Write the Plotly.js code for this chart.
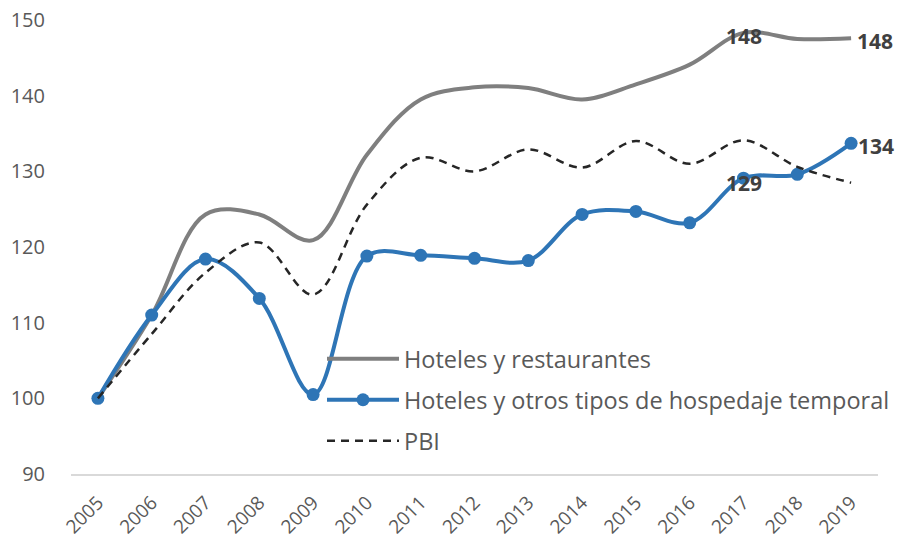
<!DOCTYPE html>
<html>
<head>
<meta charset="utf-8">
<script src="https://cdn.plot.ly/plotly-3.0.1.min.js"></script>
<style>html,body{margin:0;padding:0;background:#fff;}#chart{width:900px;height:543px;}</style>
</head>
<body>
<div id="chart"></div>
<script>
const years = ['2005','2006','2007','2008','2009','2010','2011','2012','2013','2014','2015','2016','2017','2018','2019'];
const hotelesRestaurantes = [100, 111, 124.3, 124.3, 120.9, 132.2, 139.5, 141.1, 141.0, 139.5, 141.5, 144.1, 148.3, 147.5, 147.6];
const hotelesHospedaje = [100, 111.0, 118.4, 113.2, 100.5, 118.8, 118.9, 118.5, 118.2, 124.3, 124.7, 123.2, 129.1, 129.6, 133.7];
const pbi = [100, 108.5, 116.6, 120.6, 113.7, 125.6, 131.8, 130.0, 132.9, 130.5, 134.0, 131.0, 134.1, 130.6, 128.5];
const names = ['Hoteles y restaurantes', 'Hoteles y otros tipos de hospedaje temporal', 'PBI'];

const FONT = '"Open Sans", Lato, sans-serif';
const traces = [
  {x: years, y: hotelesRestaurantes, name: names[0], type: 'scatter', mode: 'lines',
   line: {color: '#7f7f7f', width: 4, shape: 'spline', smoothing: 1}, legend: 'legend'},
  {x: years, y: hotelesHospedaje, name: names[1], type: 'scatter', mode: 'lines+markers',
   line: {color: '#2e75b6', width: 4, shape: 'spline', smoothing: 1},
   marker: {color: '#2e75b6', size: 13}, legend: 'legend2'},
  {x: years, y: pbi, name: names[2], type: 'scatter', mode: 'lines',
   line: {color: '#262626', width: 2.5, dash: '8px,6px', shape: 'spline', smoothing: 1}, legend: 'legend3'}
];

const labFont = {family: FONT, size: 21, color: '#404040', weight: 'bold'};
const idx17 = years.indexOf('2017');
const idx19 = years.indexOf('2019');
const annotations = [
  {x: idx17, y: hotelesRestaurantes[idx17], text: String(Math.round(hotelesRestaurantes[idx17])), xanchor: 'center', yanchor: 'middle', yshift: -3},
  {x: idx19, y: hotelesRestaurantes[idx19], text: String(Math.round(hotelesRestaurantes[idx19])), xanchor: 'left', yanchor: 'middle', xshift: 4, yshift: -3},
  {x: idx17, y: hotelesHospedaje[idx17], text: String(Math.round(hotelesHospedaje[idx17])), xanchor: 'center', yanchor: 'middle', yshift: -5},
  {x: idx19, y: hotelesHospedaje[idx19], text: String(Math.round(hotelesHospedaje[idx19])), xanchor: 'left', yanchor: 'middle', xshift: 5, yshift: -3}
].map(a => Object.assign({xref: 'x', yref: 'y', showarrow: false, font: labFont}, a));

const legFont = {family: FONT, size: 23.5, color: '#595959'};
const legBase = {xref: 'paper', yref: 'paper', xanchor: 'left', yanchor: 'middle', bgcolor: 'rgba(0,0,0,0)', font: legFont, itemwidth: 72};
const legX = (322 - 71) / 807;
const layout = {
  width: 900, height: 543,
  margin: {l: 71, r: 22, t: 20, b: 69, autoexpand: false},
  paper_bgcolor: '#ffffff', plot_bgcolor: '#ffffff',
  showlegend: true,
  font: {family: FONT, color: '#595959'},
  xaxis: {type: 'category', range: [-0.5, 14.5], showgrid: false, zeroline: false, automargin: false,
    showline: true, linecolor: '#d9d9d9', linewidth: 2, ticks: 'outside', ticklen: 8,
    tickcolor: 'rgba(0,0,0,0)', tickangle: -45,
    tickfont: {family: FONT, size: 19, color: '#595959'}},
  yaxis: {range: [90, 150], dtick: 10, showgrid: false, zeroline: false, showline: false, automargin: false,
    ticks: 'outside', ticklen: 21, tickcolor: 'rgba(0,0,0,0)',
    tickfont: {family: FONT, size: 20, color: '#595959'}},
  legend: Object.assign({}, legBase, {x: legX, y: (474 - 359) / 454}),
  legend2: Object.assign({}, legBase, {x: legX, y: (474 - 400) / 454}),
  legend3: Object.assign({}, legBase, {x: legX, y: (474 - 441) / 454}),
  annotations: annotations
};
Plotly.newPlot('chart', traces, layout, {displayModeBar: false, staticPlot: true});
</script>
</body>
</html>
